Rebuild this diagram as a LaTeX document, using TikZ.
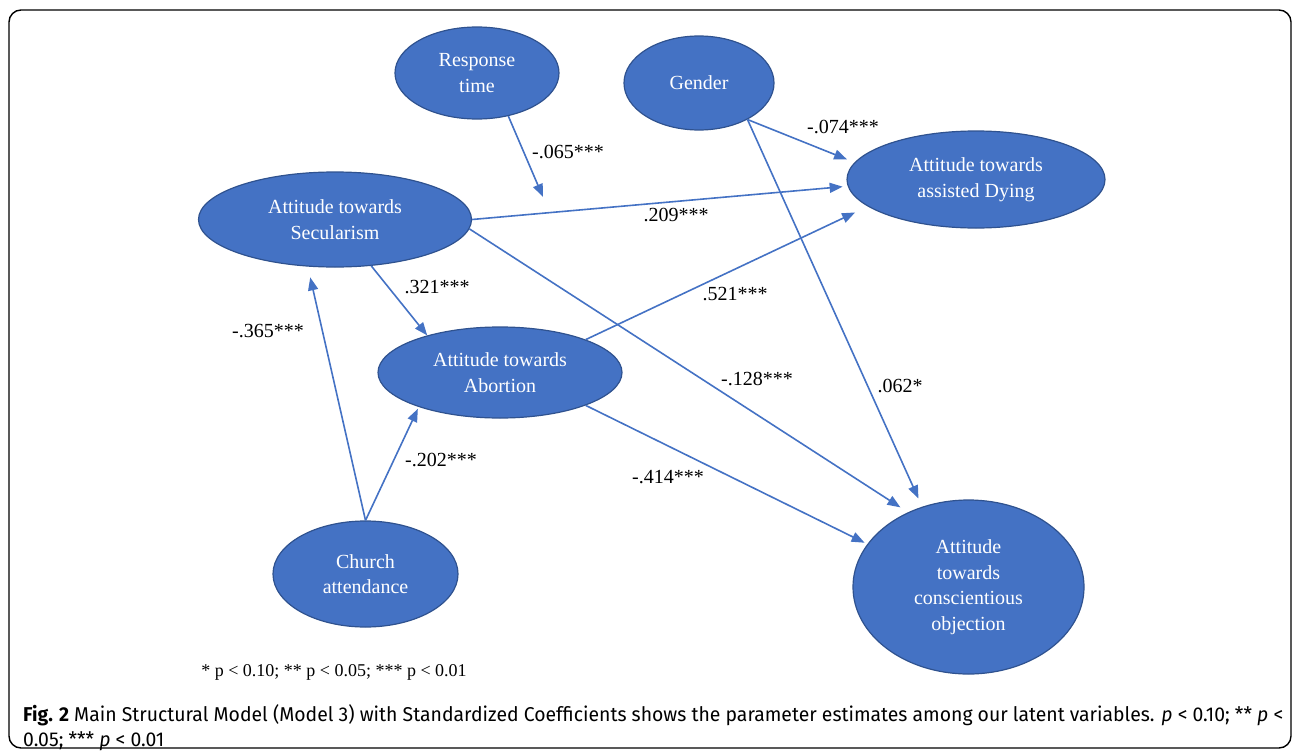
\documentclass[tikz,border=0pt]{standalone}
\usepackage{fontspec}
\usepackage{graphicx}
\setmainfont{Liberation Serif}
\newfontfamily\capfont{Fira Sans}
\usetikzlibrary{shapes.geometric,arrows.meta}
\definecolor{nodefill}{HTML}{4472C4}
\definecolor{nodeedge}{HTML}{2F528F}
\definecolor{arrowcol}{HTML}{4472C4}
\begin{document}
\begin{tikzpicture}[x=1pt,y=-1pt,
  latent/.style={ellipse,draw=nodeedge,line width=1.2pt,fill=nodefill,text=white,inner sep=0pt,align=center,font=\fontsize{20}{25.5}\selectfont},
  pathline/.style={draw=arrowcol,line width=1.6pt,-{Triangle[length=13pt,width=10pt]}},
  coef/.style={font=\fontsize{20}{24}\selectfont,inner sep=0pt}]
\useasboundingbox (0,0) rectangle (1292,752);
\draw[line width=1.4pt,rounded corners=12pt] (9,10) rectangle (1291,748);

\node[latent,minimum width=164pt,minimum height=92pt] (rt) at (477,73) {Response\\time};
\node[latent,minimum width=150pt,minimum height=94pt] (gen) at (699,83) {Gender};
\node[latent,minimum width=258pt,minimum height=97pt] (dy) at (976,179.5) {Attitude towards\\assisted Dying};
\node[latent,minimum width=273pt,minimum height=95pt] (sec) at (335,219.5) {Attitude towards\\Secularism};
\node[latent,minimum width=244pt,minimum height=91pt] (ab) at (500,372.5) {Attitude towards\\Abortion};
\node[latent,minimum width=185pt,minimum height=106pt] (ch) at (365.5,574) {Church\\attendance};
\node[latent,minimum width=231pt,minimum height=174pt] (co) at (968.5,587) {Attitude\\towards\\conscientious\\objection};

\coordinate (rtend) at (543,197);
\draw[pathline] (rt.-54.8) -- (rtend);
\draw[pathline,shorten >=5pt] (sec.0) -- (dy.183.6);
\draw[pathline,shorten >=8pt] (gen.-37) -- (dy.172.3);
\draw[pathline,shorten >=9pt] (gen.-37) -- (co.120.6);
\draw[pathline,shorten >=9pt] (sec.-4.5) -- (co.129.4);
\draw[pathline] (sec.-52.1) -- (ab.153.4);
\draw[pathline,shorten >=14pt] (ab.21.1) -- (dy.-166.4);
\draw[pathline,shorten >=3pt] (ab.-21.1) -- (co.157);
\draw[pathline,shorten >=11pt] (ch.90) -- (sec.-120.3);
\draw[pathline,shorten >=2pt] (ch.90) -- (ab.-157.7);

\node[coef] (l1) at (568,152) {-.065***};
\node[coef] (l2) at (676,215) {.209***};
\node[coef] (l3) at (843,127) {-.074***};
\node[coef] (l4) at (900,386) {.062*};
\node[coef] (l5) at (757,379) {-.128***};
\node[coef] (l6) at (735,294) {.521***};
\node[coef] (l7) at (668,477) {-.414***};
\node[coef] (l8) at (437,287) {.321***};
\node[coef] (l9) at (441,460) {-.202***};
\node[coef] (l10) at (268,331) {-.365***};

\node[font=\fontsize{18}{20}\selectfont,inner sep=0pt] (fn) at (334,672) {* p < 0.10; ** p < 0.05; *** p < 0.01};

\node[anchor=north west,inner sep=0pt] (cap) at (23,704) {\resizebox{1260pt}{\height}{\capfont\fontsize{20}{25}\selectfont\begin{tabular}{@{}l@{}}\textbf{Fig. 2} Main Structural Model (Model 3) with Standardized Coefficients shows the parameter estimates among our latent variables. \textit{p} < 0.10; ** \textit{p} <\\0.05; *** \textit{p} < 0.01\end{tabular}}};
\end{tikzpicture}
\end{document}
